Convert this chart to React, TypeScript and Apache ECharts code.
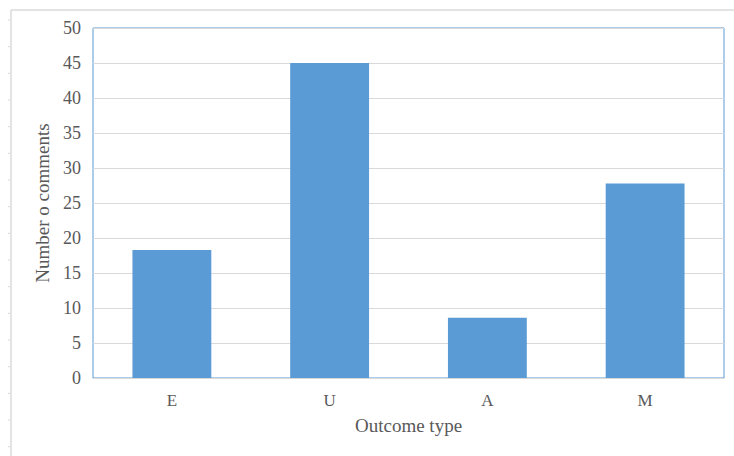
import React, { useEffect, useRef } from "react";
import * as echarts from "echarts";

const categories = ["E", "U", "A", "M"];
const values = [18.3, 45, 8.6, 27.8];
const yTicks = { min: 0, max: 50, interval: 5 };
const xAxisName = "Outcome type";
const yAxisName = "Number o comments";

const FONT = "'Liberation Serif', 'Times New Roman', serif";
const TEXT = "#595959";

export default function App() {
  const ref = useRef<HTMLDivElement>(null);
  useEffect(() => {
    if (!ref.current) return;
    const chart = echarts.init(ref.current, undefined, { renderer: "svg" });
    const frameTicks: any[] = [];
    for (let i = 0; i < 17; i++) {
      const y = 20 + i * 26.67;
      frameTicks.push({
        type: "line",
        shape: { x1: 8, y1: y, x2: 10, y2: y },
        style: { stroke: "#D8D8D8", lineWidth: 1 },
        silent: true,
      });
    }
    chart.setOption({
      animation: false,
      backgroundColor: "#ffffff",
      textStyle: { fontFamily: FONT },
      graphic: [
        {
          type: "line",
          shape: { x1: 11, y1: 10, x2: 734, y2: 10 },
          style: { stroke: "#DADADA", lineWidth: 1.5 },
          silent: true,
        },
        {
          type: "line",
          shape: { x1: 11, y1: 10, x2: 11, y2: 456 },
          style: { stroke: "#DADADA", lineWidth: 1.5 },
          silent: true,
        },
        ...frameTicks,
      ],
      grid: {
        left: 93,
        right: 10,
        top: 28,
        bottom: 78,
        show: true,
        borderColor: "#5B9BD5",
        borderWidth: 1,
        containLabel: false,
      },
      xAxis: {
        type: "category",
        data: categories,
        name: xAxisName,
        nameLocation: "middle",
        nameGap: 38,
        nameTextStyle: { color: TEXT, fontSize: 19, fontFamily: FONT },
        axisLine: { show: true, lineStyle: { color: "#D9D9D9", width: 1 } },
        axisTick: { show: false },
        axisLabel: { color: TEXT, fontSize: 17, fontFamily: FONT, margin: 14 },
      },
      yAxis: {
        type: "value",
        min: yTicks.min,
        max: yTicks.max,
        interval: yTicks.interval,
        name: yAxisName,
        nameLocation: "middle",
        nameGap: 38,
        nameTextStyle: { color: TEXT, fontSize: 19, fontFamily: FONT },
        axisLine: { show: false },
        axisTick: { show: false },
        axisLabel: { color: TEXT, fontSize: 18, fontFamily: FONT, margin: 12 },
        splitLine: { lineStyle: { color: "#D9D9D9", width: 1 } },
      },
      series: [
        {
          type: "bar",
          data: values,
          barWidth: "50%",
          itemStyle: { color: "#5B9BD5" },
          silent: true,
        },
      ],
    });
    return () => chart.dispose();
  }, []);
  return (
    <div
      ref={ref}
      style={{ position: "fixed", left: 0, top: 0, width: 734, height: 456 }}
    />
  );
}
